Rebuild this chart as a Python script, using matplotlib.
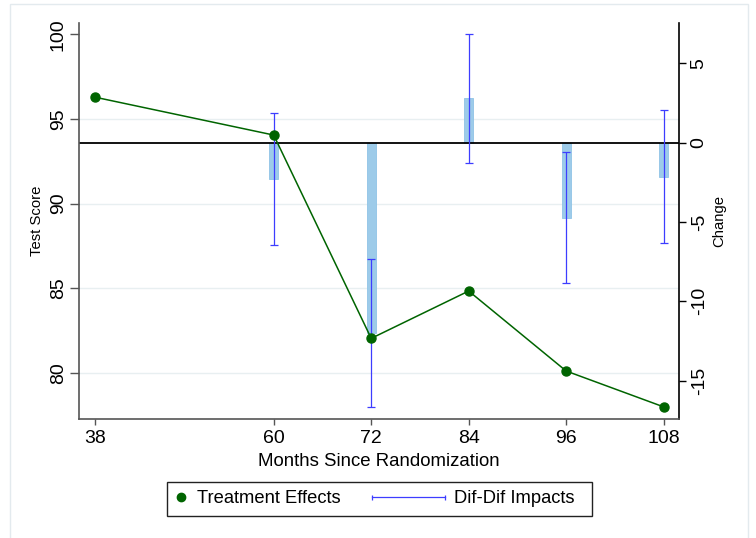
import matplotlib
matplotlib.use('Agg')
import matplotlib.pyplot as plt
import matplotlib.transforms as mtransforms
from matplotlib.lines import Line2D
from matplotlib.patches import Rectangle
from matplotlib.legend_handler import HandlerBase

plt.rcParams['font.family'] = ['Liberation Sans', 'DejaVu Sans']
plt.rcParams['axes.unicode_minus'] = False

# Treatment effects (left axis, test score)
months = [38, 60, 72, 84, 96, 108]
test_scores = [96.29, 94.05, 82.03, 84.83, 80.10, 77.98]

# Difference-in-differences impacts with confidence bounds (right axis)
impact_months = [60, 72, 84, 96, 108]
dd_impacts = [-2.29, -11.98, 2.80, -4.72, -2.14]
ci_low = [-6.46, -16.64, -1.26, -8.82, -6.34]
ci_high = [1.89, -7.33, 6.86, -0.61, 2.06]

score_ticks = [80, 85, 90, 95, 100]
change_ticks = [-15, -10, -5, 0, 5]
grid_levels = [80, 85, 90, 95]

GREEN = '#006400'
BAR = '#9dcbe9'
ERR = '#3d3dff'
AXGRAY = '#555555'

W, H = 756, 538
fig = plt.figure(figsize=(W / 100, H / 100), dpi=100)
fig.patch.set_facecolor('white')

# faint graph-region frame
fig.patches.append(Rectangle((10 / W, -0.1), 738 / W, 1.1 - 4 / H,
                             transform=fig.transFigure, fill=False,
                             edgecolor='#e3eaee', lw=1.0))

ax = fig.add_axes([0.1045, 0.2217, 0.794, 0.736])
ax2 = ax.twinx()
ax.set_zorder(2)
ax2.set_zorder(1)
ax.patch.set_visible(False)
ax2.patch.set_visible(False)

# light horizontal grid at test-score levels, kept behind the bars
grid_tf = mtransforms.blended_transform_factory(ax2.transAxes, ax.transData)
for v in grid_levels:
    ax2.plot([0, 1], [v, v], transform=grid_tf, color='#e8eff1', lw=1.0,
             zorder=0, scalex=False, scaley=False)

# impacts: bars with confidence intervals
ax2.bar(impact_months, dd_impacts, width=1.1, color=BAR, edgecolor='#8fc3e6',
        lw=0.6, zorder=2)
ax2.axhline(0, color='black', lw=1.3, zorder=3)
yerr = [[m - lo for m, lo in zip(dd_impacts, ci_low)],
        [hi - m for m, hi in zip(dd_impacts, ci_high)]]
ax2.errorbar(impact_months, dd_impacts, yerr=yerr, fmt='none', ecolor=ERR,
             elinewidth=0.9, capsize=3, capthick=0.9, zorder=4)

# treatment effects line
ax.plot(months, test_scores, color=GREEN, lw=1.1, marker='o', ms=6.5,
        zorder=3)

ax.set_xlim(36.03, 109.92)
ax.set_ylim(77.28, 100.69)
ax2.set_ylim(-17.40, 7.56)

ax.set_xticks(months)
ax.set_yticks(score_ticks)
ax2.set_yticks(change_ticks)

for s in ['top', 'right']:
    ax.spines[s].set_visible(False)
for s in ['left', 'bottom']:
    ax.spines[s].set_color(AXGRAY)
    ax.spines[s].set_linewidth(1.2)
for s in ['top', 'left', 'bottom']:
    ax2.spines[s].set_visible(False)
ax2.spines['right'].set_color('black')
ax2.spines['right'].set_linewidth(1.2)

ax.tick_params(axis='x', length=4.3, width=1, color=AXGRAY, labelsize=14,
               pad=4.0, direction='out')
ax.tick_params(axis='y', length=6.5, width=1, color=AXGRAY, labelsize=14,
               pad=2.2, direction='out', labelrotation=90)
ax2.tick_params(axis='y', length=5, width=1, color='black', labelsize=14,
                pad=3.2, direction='out', labelrotation=90)
for lab in ax.get_yticklabels() + ax2.get_yticklabels():
    lab.set_va('center')

ax.set_ylabel('Test Score', fontsize=10.7)
ax.yaxis.set_label_coords(-0.058, 0.5)
ax2.set_ylabel('Change', fontsize=10.7)
ax2.yaxis.set_label_coords(1.0545, 0.5)
ax.set_xlabel('Months Since Randomization', fontsize=13.4)
ax.xaxis.set_label_coords(0.5, -0.087)


class DotHandler(HandlerBase):
    def create_artists(self, legend, orig_handle, xdescent, ydescent,
                       width, height, fontsize, trans):
        y = height / 2 - ydescent
        x = -xdescent + 4.25
        dot = Line2D([x], [y], ls='none', marker='o', ms=6, color=GREEN,
                     transform=trans)
        return [dot]


class CappedLineHandler(HandlerBase):
    def create_artists(self, legend, orig_handle, xdescent, ydescent,
                       width, height, fontsize, trans):
        y = height / 2 - ydescent
        x0 = -xdescent - 43.3
        x1 = -xdescent + 8.6
        line = Line2D([x0, x1], [y, y], color=ERR, lw=0.9, marker='|',
                      ms=3.6, mew=0.9, transform=trans)
        return [line]


h_te = Line2D([], [], color=GREEN)
h_dd = Line2D([], [], color=ERR)
fig.legend(handles=[h_te, h_dd],
           labels=['Treatment Effects', 'Dif-Dif Impacts'],
           handler_map={h_te: DotHandler(), h_dd: CappedLineHandler()},
           loc='center', bbox_to_anchor=(375 / W, 1 - 498.9 / H), ncol=2,
           fontsize=13.2, frameon=False, borderpad=0.45,
           handlelength=1.0, handletextpad=0.19, columnspacing=5.02)

# legend box
fig.patches.append(Rectangle((167 / W, 1 - 516 / H), 425 / W, 34.3 / H,
                             transform=fig.transFigure, fill=False,
                             edgecolor='#222222', lw=1.0))

fig.savefig('out.png', dpi=100)
